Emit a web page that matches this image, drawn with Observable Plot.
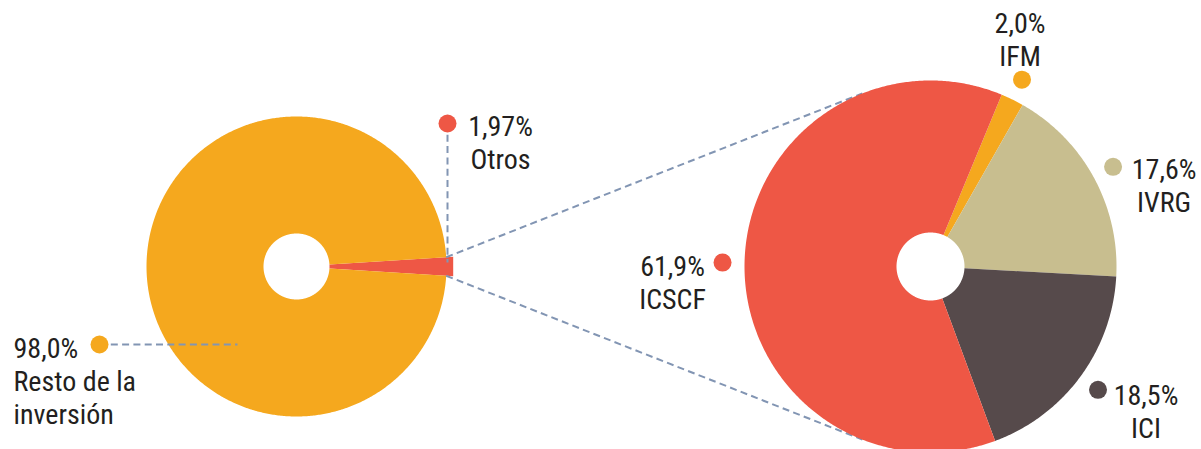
<!DOCTYPE html>
<html><head><meta charset="utf-8">
<script src="https://cdn.jsdelivr.net/npm/d3@7"></script>
<script src="https://cdn.jsdelivr.net/npm/@observablehq/plot@0.6"></script>
<style>html,body{margin:0;padding:0;background:#fff;overflow:hidden}</style>
</head><body><div id="chart"></div>
<script>
// ---- data ----
const leftCategories = ["Otros", "Resto de la inversión"];
const leftValues = [1.97, 98.03];
const leftPercentLabels = ["1,97%", "98,0%"];
const leftNameLabels = ["Otros", "Resto de la\ninversión"];

const rightCategories = ["IFM", "IVRG", "ICI", "ICSCF"];
const rightValues = [2.0, 17.6, 18.5, 61.9];
const rightPercentLabels = ["2,0%", "17,6%", "18,5%", "61,9%"];
const rightNameLabels = ["IFM", "IVRG", "ICI", "ICSCF"];

// ---- style / layout ----
const W = 1201, H = 449;
const colorDomain = ["Otros", "Resto de la inversión", "IFM", "IVRG", "ICI", "ICSCF"];
const colorRange = ["#EE5745", "#F5A81E", "#F5A81E", "#C8BE8F", "#564A4B", "#EE5745"];
const FONT = "'Liberation Sans Narrow','Roboto Condensed','DejaVu Sans Condensed','Liberation Sans',sans-serif";
const FS = 28, LH = 33 / 28;
const leftPie = {cx: 296, cy: 266, r: 150, r0: 33, rExplode: 157};
const rightPie = {cx: 930, cy: 266, r: 186, r0: 34, start: 22.5 * Math.PI / 180, labelR: 208};

const pt = (cx, cy, r, a) => ({x: cx + r * Math.sin(a), y: cy - r * Math.cos(a)});

function slicePoints(key, cx, cy, r0, r1, a0, a1, flat) {
  const n = flat ? 1 : Math.max(2, Math.ceil((a1 - a0) / (Math.PI / 360)));
  const pts = [];
  for (let i = 0; i <= n; i++) pts.push({key, ...pt(cx, cy, r1, a0 + (a1 - a0) * i / n)});
  const m = Math.max(2, Math.ceil((a1 - a0) / (Math.PI / 360)));
  for (let i = m; i >= 0; i--) pts.push({key, ...pt(cx, cy, r0, a0 + (a1 - a0) * i / m)});
  return pts;
}

// left pie: small slice centred to the right (3 o'clock)
const leftSum = d3.sum(leftValues);
const leftStart = Math.PI / 2 - (leftValues[0] / leftSum) * Math.PI;
const leftArcs = d3.pie().sort(null).startAngle(leftStart).endAngle(leftStart + 2 * Math.PI)(leftValues);
const leftPts = leftArcs.flatMap((a, i) => i === 0
  ? slicePoints(leftCategories[i], leftPie.cx, leftPie.cy, leftPie.r0, leftPie.rExplode, a.startAngle, a.endAngle, true)
  : slicePoints(leftCategories[i], leftPie.cx, leftPie.cy, leftPie.r0, leftPie.r, a.startAngle, a.endAngle, false));

// right pie
const rightArcs = d3.pie().sort(null).startAngle(rightPie.start).endAngle(rightPie.start + 2 * Math.PI)(rightValues);
const rightPts = rightArcs.flatMap((a, i) =>
  slicePoints(rightCategories[i], rightPie.cx, rightPie.cy, rightPie.r0, rightPie.r, a.startAngle, a.endAngle, false));

// label dots & texts
const rightOffsets = [
  {dx: -2, dy: -14, anchor: "middle", line: "bottom"},
  {dx: 51, dy: 9, anchor: "middle", line: "top"},
  {dx: 48, dy: 12, anchor: "middle", line: "top"},
  {dx: -50, dy: 10, anchor: "middle", line: "top"}
];
const labels = [];
rightArcs.forEach((a, i) => {
  const p = pt(rightPie.cx, rightPie.cy, rightPie.labelR, (a.startAngle + a.endAngle) / 2);
  labels.push({key: rightCategories[i], x: p.x, y: p.y,
    text: rightPercentLabels[i] + "\n" + rightNameLabels[i], ...rightOffsets[i]});
});
const otrosDot = {x: leftPie.cx + leftPie.r + 1, y: leftPie.cy - 143};
const restoDot = {x: leftPie.cx - 197, y: leftPie.cy + 78};
labels.push({key: leftCategories[0], ...otrosDot, text: leftPercentLabels[0] + "\n" + leftNameLabels[0], dx: 53, dy: 9, anchor: "middle", line: "top"});
labels.push({key: leftCategories[1], ...restoDot, text: leftPercentLabels[1] + "\n" + leftNameLabels[1], dx: -86, dy: 10, anchor: "start", line: "top"});
labels.forEach(d => {
  d.tx = d.x + d.dx;
  d.ty = d.line === "top" ? d.y + d.dy - 0.71 * FS : d.y + d.dy;
});

// leader lines
const a0 = leftArcs[0].startAngle, a1 = leftArcs[0].endAngle;
const pUp = pt(leftPie.cx, leftPie.cy, leftPie.r, a0);
const pDn = pt(leftPie.cx, leftPie.cy, leftPie.r, a1);
function tangent(P, sign) {
  const dx = rightPie.cx - P.x, dy = rightPie.cy - P.y, d = Math.hypot(dx, dy);
  const phi = Math.atan2(dy, dx) + sign * Math.asin(rightPie.r / d);
  const L = Math.sqrt(d * d - rightPie.r * rightPie.r);
  return {x: P.x + L * Math.cos(phi), y: P.y + L * Math.sin(phi)};
}
const tUp = tangent(pUp, -1), tDn = tangent(pDn, 1);
const leaders = [
  {x1: pUp.x, y1: pUp.y, x2: tUp.x, y2: tUp.y},
  {x1: pDn.x, y1: pDn.y, x2: tDn.x, y2: tDn.y},
  {x1: otrosDot.x, y1: otrosDot.y, x2: otrosDot.x, y2: leftPie.cy - 4},
  {x1: restoDot.x, y1: restoDot.y, x2: restoDot.x + 138, y2: restoDot.y}
];

const dash = {stroke: "#8295B3", strokeWidth: 2, strokeDasharray: "7,4.3"};
const chart = Plot.plot({
  width: W, height: H,
  margin: 0,
  x: {domain: [0, W], range: [0, W], axis: null},
  y: {domain: [0, H], range: [0, H], axis: null},
  color: {domain: colorDomain, range: colorRange},
  style: {fontFamily: FONT, background: "#fff"},
  marks: [
    Plot.line(leftPts, {x: "x", y: "y", z: "key", fill: "key", stroke: "none", curve: "linear"}),
    Plot.link(leaders.slice(0, 3), {x1: "x1", y1: "y1", x2: "x2", y2: "y2", ...dash}),
    Plot.line(rightPts, {x: "x", y: "y", z: "key", fill: "key", stroke: "none", curve: "linear"}),
    Plot.link(leaders.slice(3), {x1: "x1", y1: "y1", x2: "x2", y2: "y2", ...dash}),
    Plot.dot(labels, {x: "x", y: "y", fill: "key", r: 9, stroke: "none"}),
    Plot.text(labels.filter(d => d.line === "top" && d.anchor === "middle"), {x: "tx", y: "ty", text: "text", textAnchor: "middle", lineAnchor: "top", lineHeight: LH, fontSize: FS, fill: "#231F20"}),
    Plot.text(labels.filter(d => d.line === "top" && d.anchor === "start"), {x: "tx", y: "ty", text: "text", textAnchor: "start", lineAnchor: "top", lineHeight: LH, fontSize: FS, fill: "#231F20"}),
    Plot.text(labels.filter(d => d.line === "bottom"), {x: "tx", y: "ty", text: "text", textAnchor: "middle", lineAnchor: "bottom", lineHeight: LH, fontSize: FS, fill: "#231F20"})
  ]
});
document.getElementById("chart").appendChild(chart);
</script>
</body></html>
